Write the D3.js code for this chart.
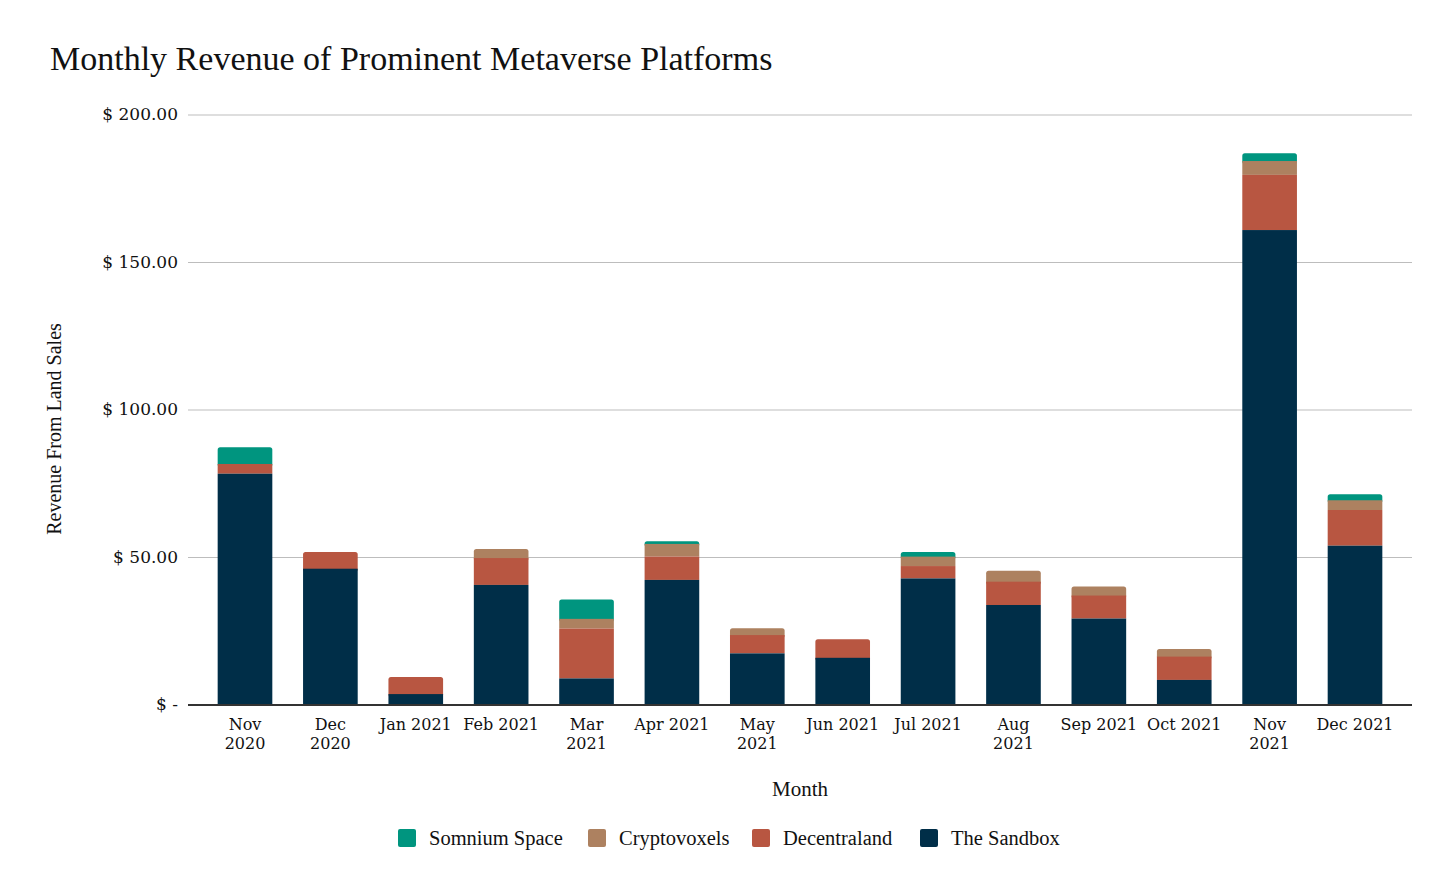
<!DOCTYPE html>
<html>
<head>
<meta charset="utf-8">
<script src="https://cdn.jsdelivr.net/npm/d3@7"></script>
<style>
  body { margin: 0; background: #fff; }
  text { font-family: "Liberation Serif", "DejaVu Serif", serif; fill: #111; }
  .tick { font-family: "DejaVu Serif", serif; }
</style>
</head>
<body>
<div id="chart"></div>
<script>
const months = [
  ["Nov", "2020"], ["Dec", "2020"], ["Jan 2021"], ["Feb 2021"], ["Mar", "2021"],
  ["Apr 2021"], ["May", "2021"], ["Jun 2021"], ["Jul 2021"], ["Aug", "2021"],
  ["Sep 2021"], ["Oct 2021"], ["Nov", "2021"], ["Dec 2021"]
]
const sandbox      = [78.4, 46.2, 3.7, 40.7, 9.0, 42.4, 17.5, 16.0, 42.9, 33.9, 29.3, 8.5, 161.0, 54.0]
const decentraland = [3.3, 5.7, 5.8, 9.1, 16.9, 7.9, 6.2, 6.3, 4.2, 7.9, 7.8, 7.9, 18.7, 12.1]
const cryptovoxels = [0, 0, 0, 3.1, 3.3, 4.3, 2.3, 0, 3.2, 3.7, 3.1, 2.6, 4.7, 3.3]
const somnium      = [5.7, 0, 0, 0, 6.6, 0.9, 0, 0, 1.6, 0, 0, 0, 2.6, 2.0]
const yTicks = [0, 50, 100, 150, 200]
const seriesNames = ["The Sandbox", "Decentraland", "Cryptovoxels", "Somnium Space"]
const legendOrder = ["Somnium Space", "Cryptovoxels", "Decentraland", "The Sandbox"]
const colors = {"The Sandbox": "#002e48", "Decentraland": "#b85641", "Cryptovoxels": "#ad8160", "Somnium Space": "#00957f"}

const width = 1456, height = 893

const svg = d3.select("#chart").append("svg").attr("width", width).attr("height", height)

const rows = months.map((m, i) => ({
  key: i,
  "The Sandbox": sandbox[i],
  "Decentraland": decentraland[i],
  "Cryptovoxels": cryptovoxels[i],
  "Somnium Space": somnium[i]
}))
const stacked = d3.stack().keys(seriesNames)(rows)

const x = d3.scaleBand().domain(d3.range(months.length)).range([202.3, 1397.7]).paddingInner(0.36).paddingOuter(0.18)
const y = d3.scaleLinear().domain([0, 200]).range([705, 115])

// title
svg.append("text").attr("x", 50).attr("y", 70).attr("font-size", "34px").text("Monthly Revenue of Prominent Metaverse Platforms")

// gridlines + y labels
svg.append("g").selectAll("line").data(yTicks.filter(d => d > 0)).enter()
  .append("line").attr("x1", 188).attr("x2", 1412)
  .attr("y1", d => y(d)).attr("y2", d => y(d))
  .attr("stroke", "#bdbdbd").attr("stroke-width", 1)

svg.append("g").selectAll("text").data(yTicks).enter()
  .append("text").attr("class", "tick").attr("x", 178).attr("y", d => y(d) + 5)
  .attr("text-anchor", "end").attr("font-size", "17px")
  .text(d => d === 0 ? "$ -" : "$ " + d3.format(".2f")(d))

// bars: top segment drawn first with rounded corners, lower segments over it
const topIdx = rows.map(r => {
  let t = 0
  seriesNames.forEach((k, j) => { if (r[k] > 0) t = j })
  return t
})
for (let j = seriesNames.length - 1; j >= 0; j--) {
  const layer = stacked[j]
  svg.append("g").selectAll("rect").data(layer.filter(d => d[1] - d[0] > 0)).enter()
    .append("rect")
    .attr("x", d => x(d.data.key))
    .attr("width", x.bandwidth())
    .attr("y", d => y(d[1]))
    .attr("height", d => topIdx[d.data.key] === j && j > 0 ? y(d[0]) - y(d[1]) + 3 : y(d[0]) - y(d[1]))
    .attr("rx", d => topIdx[d.data.key] === j ? 2.5 : 0)
    .attr("fill", colors[seriesNames[j]])
}

// baseline
svg.append("line").attr("x1", 188).attr("x2", 1412).attr("y1", y(0)).attr("y2", y(0))
  .attr("stroke", "#333").attr("stroke-width", 2)

// x labels
const xl = svg.append("g").selectAll("text").data(months).enter()
  .append("text").attr("class", "tick").attr("text-anchor", "middle").attr("font-size", "16px")
  .attr("x", (d, i) => x(i) + x.bandwidth() / 2).attr("y", 730)
xl.selectAll("tspan").data(d => d).enter().append("tspan")
  .attr("x", function() { return d3.select(this.parentNode).attr("x") })
  .attr("dy", (d, i) => i === 0 ? 0 : 19)
  .text(d => d)

// axis titles
svg.append("text").attr("x", 800).attr("y", 796).attr("text-anchor", "middle").attr("font-size", "21px").text("Month")
svg.append("text").attr("transform", "translate(61,429) rotate(-90)").attr("text-anchor", "middle")
  .attr("font-size", "20px").text("Revenue From Land Sales")

// legend
const legendX = [398, 588, 752, 920]
const lg = svg.append("g").selectAll("g").data(legendOrder).enter()
  .append("g").attr("transform", (d, i) => `translate(${legendX[i]},829)`)
lg.append("rect").attr("width", 18).attr("height", 18).attr("rx", 2).attr("fill", d => colors[d])
lg.append("text").attr("x", 31).attr("y", 16).attr("font-size", "20.5px").text(d => d)
</script>
</body>
</html>
